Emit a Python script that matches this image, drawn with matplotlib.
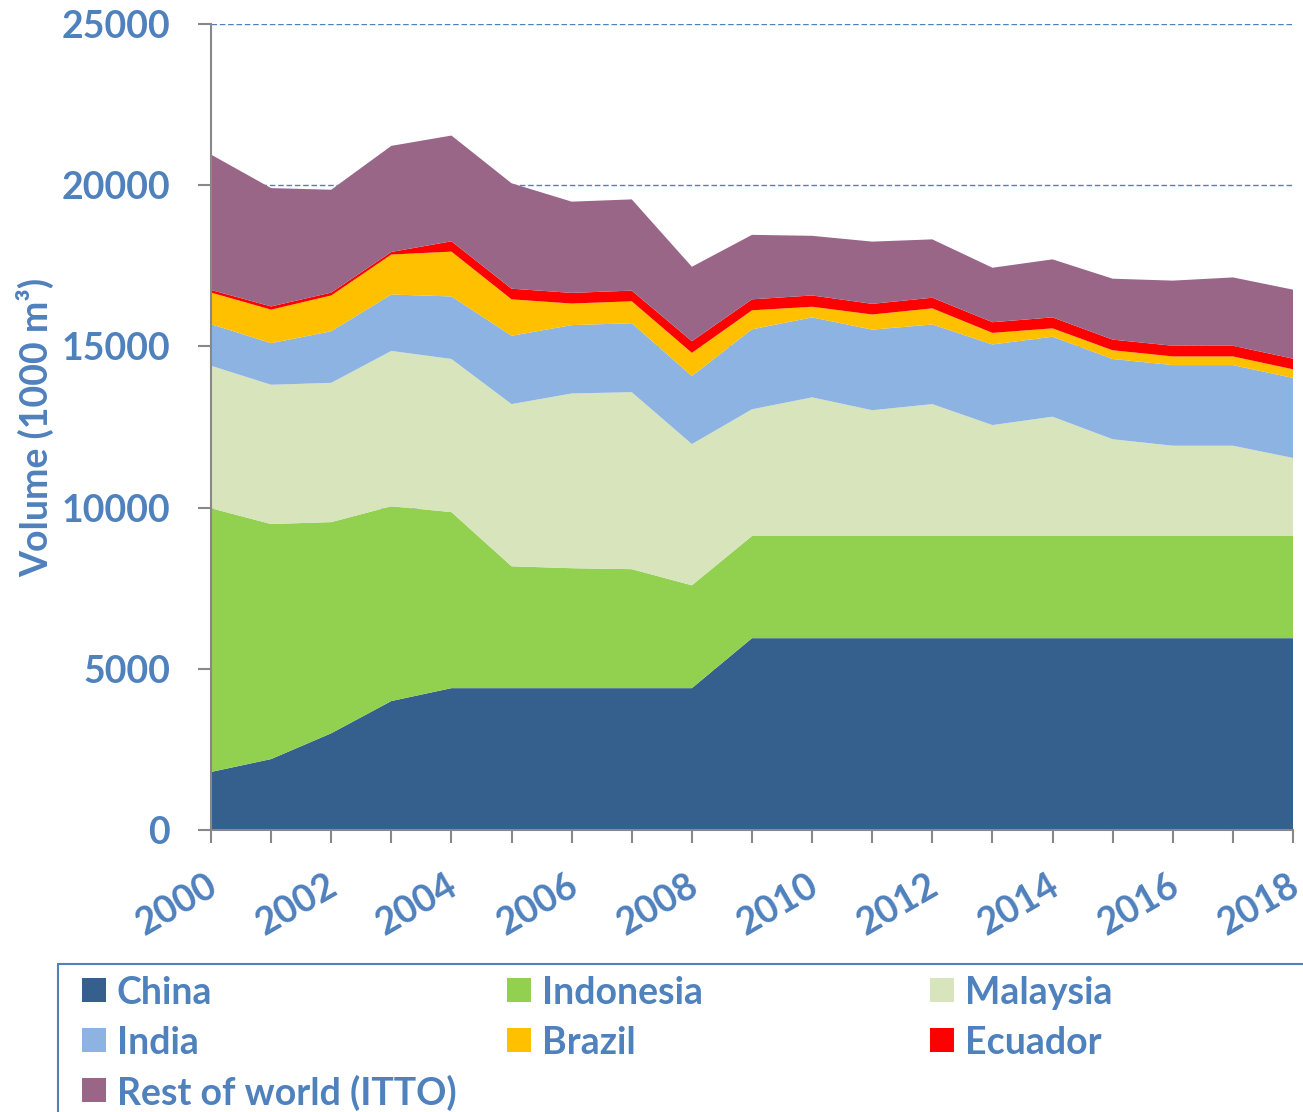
import numpy as np
import matplotlib
matplotlib.use('Agg')
import matplotlib.pyplot as plt
import matplotlib.transforms as mtransforms
from matplotlib.patches import Rectangle

# Data (volume, 1000 m3)
years = np.arange(2000, 2019)
china = [1800, 2200, 3000, 4000, 4400, 4400, 4400, 4400, 4400,
         5950, 5950, 5950, 5950, 5950, 5950, 5950, 5950, 5950, 5950]
indonesia = [8180, 7290, 6550, 6040, 5460, 3780, 3720, 3690, 3190,
             3170, 3170, 3170, 3170, 3170, 3170, 3170, 3170, 3170, 3170]
malaysia = [4420, 4320, 4320, 4820, 4750, 5030, 5420, 5490, 4380,
            3930, 4300, 3900, 4090, 3440, 3700, 3000, 2800, 2800, 2420]
india = [1290, 1290, 1600, 1750, 1940, 2120, 2120, 2140, 2110,
         2480, 2480, 2500, 2470, 2500, 2480, 2490, 2500, 2500, 2480]
brazil = [980, 1040, 1110, 1240, 1390, 1130, 670, 680, 720,
          590, 330, 470, 500, 360, 260, 270, 270, 270, 270]
ecuador = [80, 100, 90, 80, 320, 330, 330, 330, 360,
           340, 350, 330, 330, 330, 340, 330, 330, 330, 330]
rest = [4200, 3670, 3190, 3290, 3280, 3270, 2830, 2830, 2310,
        2000, 1850, 1930, 1810, 1690, 1800, 1890, 2020, 2120, 2140]

labels = ['China', 'Indonesia', 'Malaysia', 'India', 'Brazil', 'Ecuador',
          'Rest of world (ITTO)']
colors = ['#35608D', '#92D050', '#D8E4BC', '#8DB3E2', '#FFC000', '#FF0000',
          '#996688']
txt = '#4F81BD'
W, H = 1303, 1112

plt.rcParams['font.family'] = ['Lato', 'DejaVu Sans']
plt.rcParams['font.weight'] = 'bold'

fig = plt.figure(figsize=(W / 100, H / 100), dpi=100)
ax = fig.add_axes([211 / W, 1 - 830 / H, 1082 / W, 806 / H])

polys = ax.stackplot(years, china, indonesia, malaysia, india, brazil, ecuador,
                     rest, colors=colors, labels=labels, linewidth=0)

ax.set_xlim(2000, 2018)
ax.set_ylim(0, 25000)
ax.set_yticks(np.arange(0, 25001, 5000))
ax.yaxis.grid(True, linestyle=(0, (4, 2)), color=txt, linewidth=1)
ax.set_axisbelow(True)

ax.set_xticks(years, minor=True)
ax.set_xticks(np.arange(2000, 2019, 2))
ax.set_xticklabels([str(y) for y in range(2000, 2019, 2)], rotation=30,
                   ha='right', va='top', rotation_mode='anchor')
ax.tick_params(axis='x', which='both', length=9.5, width=1.5, color='#888888',
               labelsize=27, labelcolor=txt, pad=18)
ax.tick_params(axis='y', length=9.5, width=1.5, color='#888888',
               labelsize=27, labelcolor=txt, pad=20)
shift = mtransforms.ScaledTranslation(-5 / 100, 0, fig.dpi_scale_trans)
for lab in ax.get_xticklabels():
    lab.set_transform(lab.get_transform() + shift)

for s in ['top', 'right']:
    ax.spines[s].set_visible(False)
for s in ['left', 'bottom']:
    ax.spines[s].set_color('#888888')
    ax.spines[s].set_linewidth(1.5)

ax.set_ylabel('Volume (1000 m³)', fontsize=27, color=txt, fontweight='bold')
ax.yaxis.set_label_coords(-0.145, 0.5)

# legend drawn as a grid, like the spreadsheet one (row-wise, equal columns)
fig.patches.append(Rectangle((58 / W, -0.05), 1.0, 0.05 + 1 - 964 / H,
                             transform=fig.transFigure, fill=False,
                             edgecolor=txt, linewidth=1.5))
col_x = [82, 507, 930]
row_y = [990, 1040, 1090]
for i, (lab, c) in enumerate(zip(labels, colors)):
    cx = col_x[i % 3]
    cy = row_y[i // 3]
    fig.patches.append(Rectangle((cx / W, 1 - (cy + 12) / H), 24 / W, 24 / H,
                                 transform=fig.transFigure, facecolor=c,
                                 edgecolor='none'))
    fig.text((cx + 35) / W, 1 - cy / H, lab, color=txt, fontsize=27,
             fontweight='bold', va='center_baseline', ha='left')

fig.savefig('out.png', dpi=100)
